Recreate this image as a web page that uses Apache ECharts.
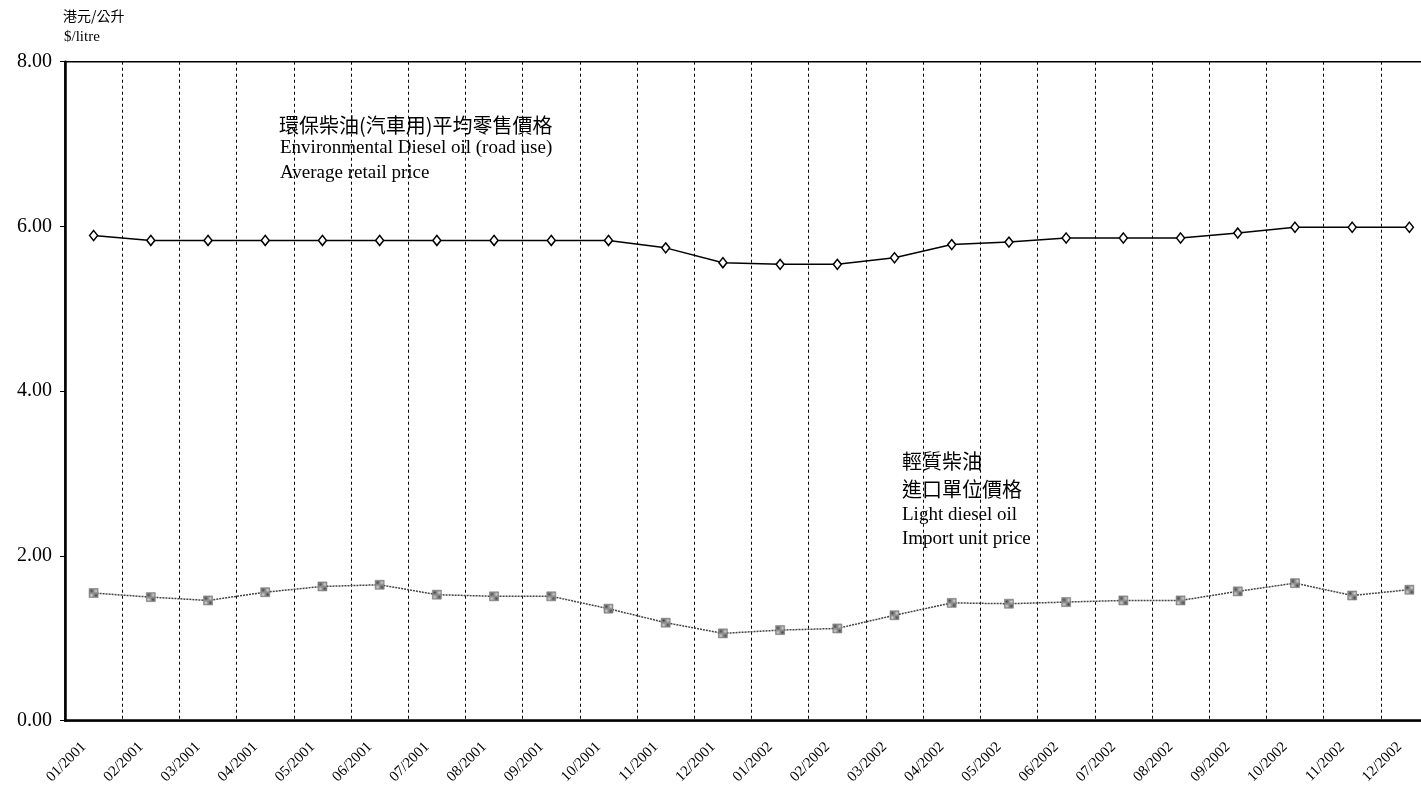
<!DOCTYPE html>
<html>
<head>
<meta charset="utf-8">
<script src="https://cdn.jsdelivr.net/npm/echarts@6/dist/echarts.min.js"></script>
<style>
html,body{margin:0;padding:0;background:#fff;overflow:hidden;width:1421px;height:790px;}
#chart{width:1438px;height:790px;}
</style>
</head>
<body>
<div id="chart"></div>
<script>
const months = ['01/2001','02/2001','03/2001','04/2001','05/2001','06/2001','07/2001','08/2001','09/2001','10/2001','11/2001','12/2001',
                '01/2002','02/2002','03/2002','04/2002','05/2002','06/2002','07/2002','08/2002','09/2002','10/2002','11/2002','12/2002'];
const retailDiesel = [5.89,5.83,5.83,5.83,5.83,5.83,5.83,5.83,5.83,5.83,5.74,5.56,
                      5.54,5.54,5.62,5.78,5.81,5.86,5.86,5.86,5.92,5.99,5.99,5.99];
const importLightDiesel = [1.55,1.50,1.46,1.56,1.63,1.65,1.53,1.51,1.51,1.36,1.19,1.06,
                           1.10,1.12,1.28,1.43,1.42,1.44,1.46,1.46,1.57,1.67,1.52,1.59];
const yTicks = [0,2,4,6,8];

const SERIF = '"Liberation Serif","DejaVu Serif",serif';
const CJK = '"Noto Sans CJK TC","Noto Sans CJK SC",sans-serif';

// checkered pattern for the import price markers
const pat = document.createElement('canvas');
pat.width = 2; pat.height = 2;
const pc = pat.getContext('2d');
pc.fillStyle = '#d8d8d8'; pc.fillRect(0,0,2,2);
pc.fillStyle = '#444'; pc.fillRect(0,0,1,1); pc.fillRect(1,1,1,1);

const chart = echarts.init(document.getElementById('chart'));
chart.setOption({
  animation: false,
  backgroundColor: '#fff',
  grid: {left: 65, top: 61.7, bottom: 69.3, right: 0, show: true, borderColor: '#000', borderWidth: 1.5},
  xAxis: {
    type: 'category',
    data: months,
    boundaryGap: true,
    axisLine: {show: true, lineStyle: {color: '#000', width: 2.5}},
    axisTick: {show: false},
    splitLine: {show: true, lineStyle: {color: '#000', width: 1, type: [3,3]}},
    axisLabel: {interval: 0, rotate: 45, margin: 14, padding: [0,14,0,0], color: '#000', fontFamily: SERIF, fontSize: 15}
  },
  yAxis: {
    type: 'value',
    min: yTicks[0], max: yTicks[yTicks.length-1], interval: 2,
    axisLine: {show: true, lineStyle: {color: '#000', width: 2.5}},
    axisTick: {show: true, length: 5, lineStyle: {color: '#000', width: 1}},
    splitLine: {show: false},
    axisLabel: {margin: 13, color: '#000', fontFamily: SERIF, fontSize: 20, formatter: v => v.toFixed(2)}
  },
  series: [
    {
      name: 'retail', type: 'line', data: retailDiesel,
      symbol: 'diamond', symbolSize: [8, 10], showSymbol: true,
      lineStyle: {color: '#000', width: 1.5},
      itemStyle: {color: '#fff', borderColor: '#000', borderWidth: 1.5}
    },
    {
      name: 'import', type: 'line', data: importLightDiesel,
      symbol: 'rect', symbolSize: 9, showSymbol: true,
      lineStyle: {color: '#444', width: 1.5, type: [2,1]},
      itemStyle: {color: {image: pat, repeat: 'repeat'}, borderColor: '#666', borderWidth: 0.5}
    }
  ],
  graphic: [
    {type: 'text', left: 63, top: 9, style: {text: '港元/公升', font: '14px ' + CJK, fill: '#000'}},
    {type: 'text', left: 64, top: 30, style: {text: '$/litre', font: '15px ' + SERIF, fill: '#000'}},
    {type: 'text', left: 279, top: 115, style: {text: '環保柴油(汽車用)平均零售價格', font: '20px ' + CJK, fill: '#000'}},
    {type: 'text', left: 280, top: 139, style: {text: 'Environmental Diesel oil (road use)', font: '19px ' + SERIF, fill: '#000'}},
    {type: 'text', left: 280, top: 164, style: {text: 'Average retail price', font: '19px ' + SERIF, fill: '#000'}},
    {type: 'text', left: 902, top: 451, style: {text: '輕質柴油', font: '20px ' + CJK, fill: '#000'}},
    {type: 'text', left: 902, top: 479, style: {text: '進口單位價格', font: '20px ' + CJK, fill: '#000'}},
    {type: 'text', left: 902, top: 506, style: {text: 'Light diesel oil', font: '19px ' + SERIF, fill: '#000'}},
    {type: 'text', left: 902, top: 530, style: {text: 'Import unit price', font: '19px ' + SERIF, fill: '#000'}}
  ]
});
</script>
</body>
</html>
